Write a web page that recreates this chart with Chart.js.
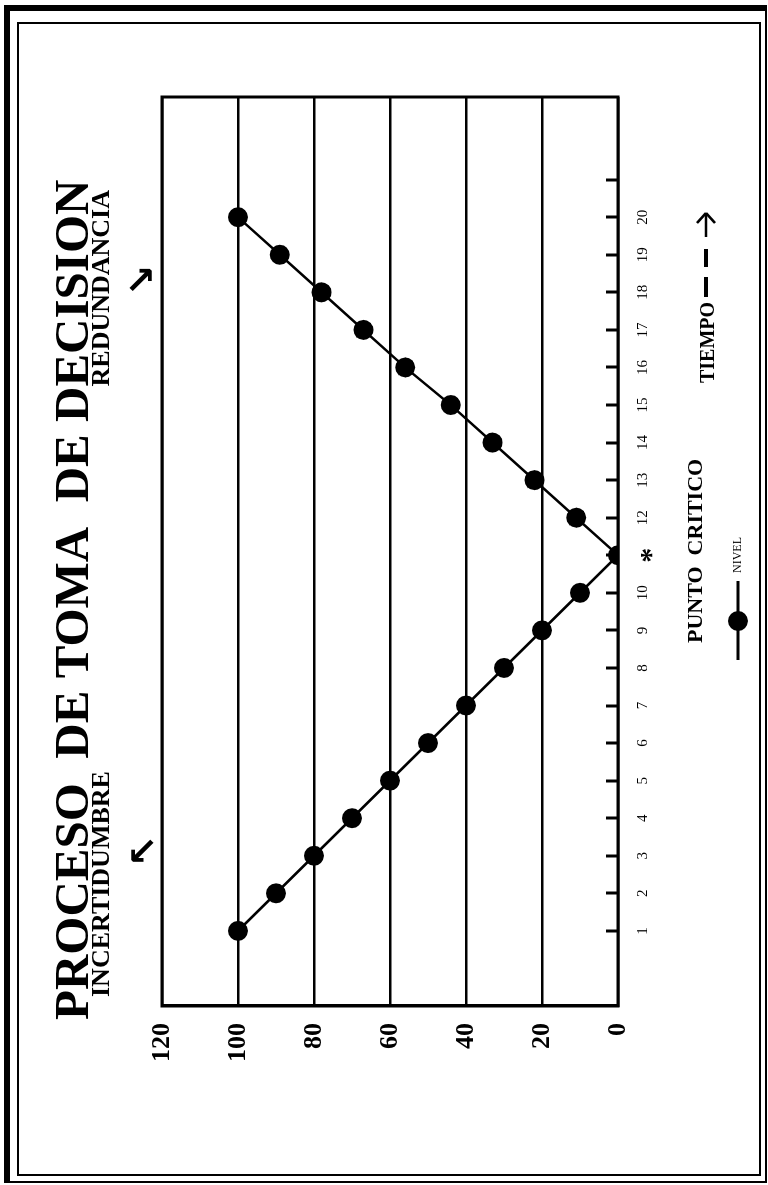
<!DOCTYPE html>
<html>
<head>
<meta charset="utf-8">
<script src="https://cdn.jsdelivr.net/npm/chart.js@4.4.0/dist/chart.umd.min.js"></script>
<style>
html, body { margin: 0; padding: 0; background: #fff; }
body { width: 768px; height: 1185px; position: relative; overflow: hidden; }
#outer { position: absolute; left: 4px; top: 5px; width: 755px; height: 1170px;
  border-left: 6px solid #000; border-top: 6px solid #000; border-right: 2px solid #000; border-bottom: 2px solid #000; }
#inner { position: absolute; left: 17px; top: 22px; width: 744px; height: 1154px; box-sizing: border-box; border: 2px solid #000; }
#wrap { position: absolute; left: 0; top: 1185px; width: 1185px; height: 768px; transform-origin: 0 0; transform: rotate(-90deg); }
</style>
</head>
<body>
<div id="outer"></div>
<div id="inner"></div>
<div id="wrap"><canvas id="grafico" width="1185" height="768"></canvas></div>
<script>
// datos
var tiempo = [1, 2, 3, 4, 5, 6, 7, 8, 9, 10, 11, 12, 13, 14, 15, 16, 17, 18, 19, 20];
var nivel = [100, 90, 80, 70, 60, 50, 40, 30, 20, 10, 0, 11, 22, 33, 44, 56, 67, 78, 89, 100];
var tickPos = [1, 2, 3, 4, 5, 6, 7, 8, 9, 10, 11, 12, 13, 14, 15, 16, 17, 18, 19, 20, 21];
var tickLabels = ['1', '2', '3', '4', '5', '6', '7', '8', '9', '10', '', '12', '13', '14', '15', '16', '17', '18', '19', '20', ''];
var yTicks = [0, 20, 40, 60, 80, 100, 120];

var titulo = 'PROCESO  DE TOMA  DE DECISION';
var serif = '"Liberation Serif", "Times New Roman", serif';

var puntos = [];
for (var i = 0; i < tiempo.length; i++) {
	puntos.push({ x: tiempo[i], y: nivel[i] });
}

function linea(ctx, x1, y1, x2, y2) {
	ctx.beginPath();
	ctx.moveTo(x1, y1);
	ctx.lineTo(x2, y2);
	ctx.stroke();
}

// textos, flechas, leyenda y marco del area
var extras = {
	id: 'extras',
	afterDraw: function (chart) {
		var ctx = chart.ctx;
		var a = chart.chartArea;
		var xs = chart.scales.x;
		ctx.save();
		ctx.strokeStyle = '#000';
		ctx.fillStyle = '#000';

		ctx.lineWidth = 3;
		ctx.strokeRect(a.left, a.top, a.right - a.left, a.bottom - a.top);

		// marcas hacia dentro en el eje del tiempo
		tickPos.forEach(function (t) {
			var px = Math.round(xs.getPixelForValue(t));
			linea(ctx, px, a.bottom, px, a.bottom - 12);
		});

		ctx.textAlign = 'left';
		ctx.textBaseline = 'alphabetic';
		ctx.font = 'bold 49px ' + serif;
		ctx.fillText(titulo, 165, 88);

		ctx.font = 'bold 26px ' + serif;
		ctx.fillText('INCERTIDUMBRE', 188, 109);
		ctx.textAlign = 'right';
		ctx.fillText('REDUNDANCIA', 995, 109);

		ctx.textAlign = 'center';
		ctx.textBaseline = 'middle';
		ctx.font = 'bold 38px "DejaVu Sans"';
		ctx.fillText('\u2196', 334, 146);
		ctx.fillText('\u2198', 905, 144);

		// punto critico
		ctx.font = 'bold 30px ' + serif;
		ctx.fillText('*', xs.getPixelForValue(11), 652);

		ctx.textAlign = 'left';
		ctx.textBaseline = 'alphabetic';
		ctx.font = 'bold 22px ' + serif;
		ctx.fillText('PUNTO  CRITICO', 542, 702);
		ctx.font = 'bold 20px ' + serif;
		ctx.fillText('TIEMPO', 802, 714);

		// guiones y flecha del tiempo
		ctx.lineWidth = 4;
		linea(ctx, 888, 706, 908, 706);
		linea(ctx, 918, 706, 936, 706);
		ctx.lineWidth = 2.5;
		linea(ctx, 948, 706, 972, 706);
		linea(ctx, 962, 697, 972, 706);
		linea(ctx, 962, 715, 972, 706);

		// leyenda
		var ds = chart.data.datasets[0];
		ctx.lineWidth = 3;
		linea(ctx, 525, 738, 604, 738);
		ctx.beginPath();
		ctx.arc(564, 738, 10, 0, Math.PI * 2);
		ctx.fill();
		ctx.font = '12px ' + serif;
		ctx.textBaseline = 'middle';
		ctx.fillText(ds.label, 612, 738);

		ctx.restore();
	}
};

var ctx = document.getElementById('grafico');

var data = {
	datasets: [
		{
			label: 'NIVEL',
			data: puntos,
			borderColor: '#000',
			backgroundColor: '#000',
			borderWidth: 2.5,
			pointRadius: 10,
			pointBackgroundColor: '#000',
			pointBorderWidth: 0,
			fill: false,
			tension: 0
		}
	]
};

var options = {
	responsive: false,
	animation: false,
	layout: { padding: { left: 0, top: 162, right: 97, bottom: 0 } },
	plugins: {
		legend: { display: false },
		title: { display: false },
		tooltip: { enabled: false }
	},
	scales: {
		x: {
			type: 'linear',
			min: -1,
			max: 23.2,
			afterBuildTicks: function (scale) {
				scale.ticks = tickPos.map(function (v) { return { value: v }; });
			},
			afterFit: function (scale) { scale.height = 150; },
			grid: { display: false },
			border: { display: false },
			ticks: {
				autoSkip: false,
				maxRotation: 0,
				padding: 8,
				color: '#000',
				font: { family: serif, size: 15 },
				callback: function (value) {
					var k = tickPos.indexOf(value);
					return k >= 0 ? tickLabels[k] : '';
				}
			}
		},
		y: {
			min: 0,
			max: 120,
			afterBuildTicks: function (scale) {
				scale.ticks = yTicks.map(function (v) { return { value: v }; });
			},
			afterFit: function (scale) { scale.width = 179; },
			grid: { color: '#000', lineWidth: 2.5, drawTicks: false },
			border: { display: true, color: '#000', width: 3 },
			ticks: {
				padding: 17,
				color: '#000',
				font: { family: serif, size: 26, weight: 'bold' }
			}
		}
	}
};

var chart = new Chart(ctx, {
	type: 'line',
	data: data,
	options: options,
	plugins: [extras]
});
</script>
</body>
</html>
